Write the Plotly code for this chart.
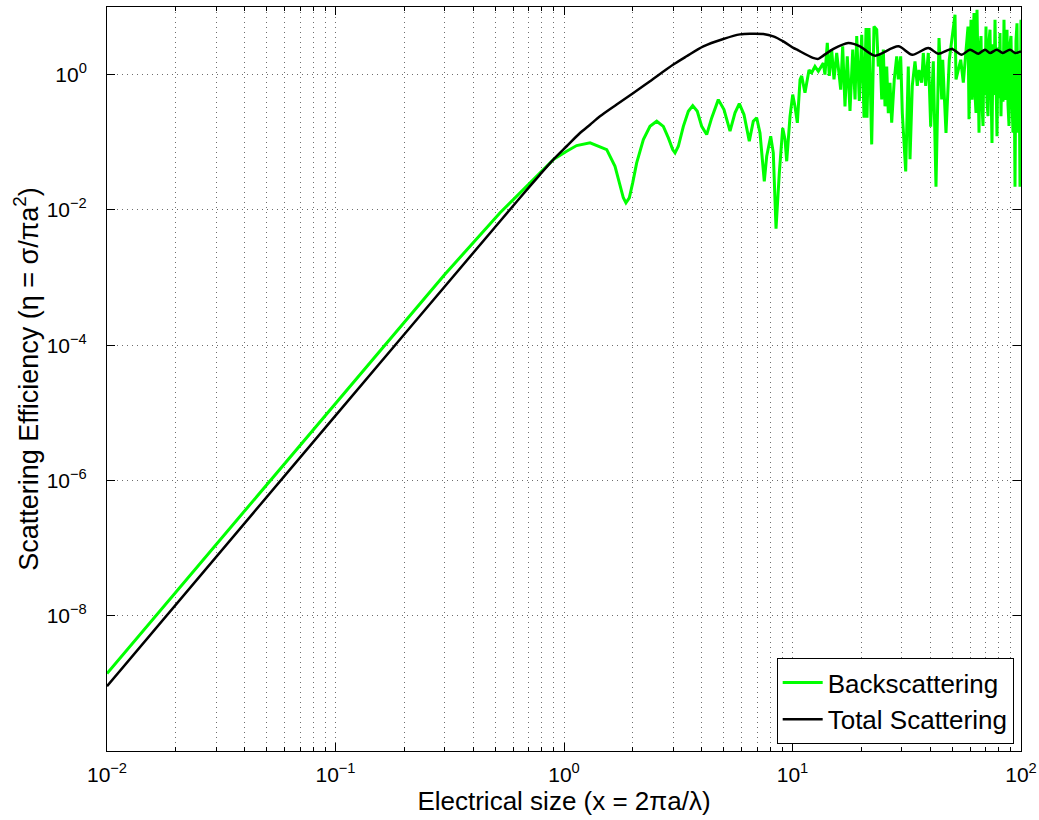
import plotly.graph_objects as go

# Electrical size x = 2*pi*a/lambda
total_x = [0.01, 0.1, 0.525, 0.642, 0.785, 0.898, 1.027, 1.175, 1.30, 1.437, 1.70, 2.012,
           2.379, 3.010, 3.441, 4.072, 4.982, 5.891, 6.516, 7.451, 8.241, 9.115, 10.08,
           10.60, 10.79, 12.29, 12.97, 13.64, 15.11, 17.53, 19.73, 20.7, 23.0, 29.04,
           33.42, 39.3, 43.4, 49.8, 55.0, 59.8, 65.1, 69.6, 73.2, 78.3, 83.2, 89.5,
           94.2, 100.0]
# Total scattering efficiency
total_eta = [9.1e-10, 9.1e-6, 6.81e-3, 1.51e-2, 3.33e-2, 5.55e-2, 8.73e-2, 0.137, 0.182,
             0.242, 0.361, 0.536, 0.80, 1.41, 1.87, 2.62, 3.37, 3.94, 4.03, 3.99, 3.68,
             3.10, 2.48, 2.29, 2.21, 1.77, 1.71, 1.91, 2.40, 2.94, 2.62, 2.34, 1.91, 2.62,
             1.97, 2.48, 2.04, 2.40, 1.97, 2.34, 2.04, 2.34, 2.09, 2.34, 2.09, 2.34,
             2.09, 2.20]

# Backscattering efficiency
back_x = [0.01, 0.1, 0.3, 0.525, 0.687, 0.898, 1.027, 1.136, 1.30, 1.538, 1.672, 1.758,
          1.818, 1.867, 1.931, 1.998, 2.080, 2.225, 2.379, 2.545, 2.721, 2.862, 2.990,
          3.062, 3.165, 3.329, 3.501, 3.659, 3.831, 4.005, 4.212, 4.429, 4.735, 5.014,
          5.328, 5.603, 5.851, 6.133, 6.470, 6.736, 6.970, 7.207, 7.526, 7.710, 8.027,
          8.241, 8.470, 8.755, 9.060, 9.273, 9.433, 9.752, 10.02, 10.25, 10.50, 10.79,
          10.97, 11.34, 11.81, 12.13, 12.54, 12.97, 13.64, 13.87, 14.20, 14.49, 14.84,
          15.19, 15.61, 16.02, 16.25, 16.58, 16.97, 17.37, 17.85, 18.35, 18.78, 19.10,
          19.61, 20.09, 20.56, 20.98, 21.19, 21.62, 22.21, 22.73, 23.36, 23.74, 24.15,
          24.57, 24.97, 25.40, 25.84, 26.26, 26.71, 27.17, 27.89, 28.58, 29.04, 29.75,
          30.24, 31.29, 32.12, 32.68, 33.44, 34.36, 35.17, 35.78, 36.76, 37.36, 38.27,
          39.29, 40.25, 41.32, 42.46, 43.77, 44.98, 45.43, 46.96, 48.55, 50.25, 51.43,
          51.95, 53.17, 54.47, 55.92, 57.46,
          58.63, 59.22, 59.82, 60.43, 61.04, 61.66, 62.28, 62.91, 63.55, 64.19, 64.84,
          65.50, 66.16, 66.83, 67.51, 68.19, 68.88, 69.58, 70.28, 70.99, 71.71, 72.44,
          73.17, 73.91, 74.66, 75.42, 76.18, 76.95, 77.73, 78.52, 79.31, 80.12, 80.93,
          81.75, 82.57, 83.41, 84.25, 85.11, 85.97, 86.84, 87.72, 88.61, 89.50, 90.41,
          91.33, 92.25, 93.19, 94.13, 95.08, 96.05, 97.02, 98.00, 99.00, 100.0]
back_eta = [1.4e-9, 1.38e-5, 1.1e-3, 9.1e-3, 2.24e-2, 5.55e-2, 7.36e-2, 8.94e-2, 0.098,
            0.078, 0.0442, 0.0237, 0.0151, 0.0127, 0.0151, 0.0251, 0.0496, 0.110, 0.172,
            0.205, 0.172, 0.116, 0.078, 0.0697, 0.0873, 0.172, 0.287, 0.348, 0.287, 0.172,
            0.130, 0.229, 0.427, 0.304, 0.146, 0.272, 0.373, 0.257, 0.104, 0.205, 0.229,
            0.137, 0.0265, 0.0621, 0.123, 0.0697, 0.00526, 0.0353, 0.163, 0.110, 0.0524,
            0.242, 0.507, 0.340, 0.194, 0.844,
            0.955, 0.54, 1.17, 1.07, 1.32, 1.12, 1.48, 1.0, 2.95, 0.955, 2.34,
            0.85, 2.09, 0.955, 0.60, 2.63, 0.34, 1.86, 0.29, 2.34, 0.43, 3.72,
            0.41, 3.89, 0.23, 4.90, 0.23, 4.90, 0.093, 5.13, 4.62, 1.32, 1.97,
            0.43, 2.34, 0.34, 1.32, 0.27, 0.76, 0.195, 0.85, 1.86, 0.85, 1.86,
            0.27, 0.037, 1.32, 0.056, 0.68, 1.57, 0.68, 1.17, 0.76, 2.09, 0.68,
            2.09, 0.17, 1.57, 0.022, 3.47, 0.43, 1.66, 0.138, 1.66, 4.12, 7.67,
            0.85, 1.17, 1.66, 0.76, 2.09,
            5.13, 0.219, 2.82, 6.46, 0.427, 3.16, 8.13, 0.50, 0.272, 9.12, 0.631,
            0.138, 2.51, 3.72, 0.355, 0.174, 2.24, 0.50, 5.13, 0.398, 0.243, 3.16,
            4.62, 0.447, 0.098, 2.82, 0.50, 6.46, 0.316, 0.123, 2.51, 0.447, 4.12,
            0.243, 2.0, 0.398, 6.46, 0.50, 0.427, 4.62, 0.355, 0.174, 2.82, 3.72,
            0.398, 0.138, 2.24, 0.022, 3.16, 5.75, 0.138, 2.0, 0.022, 6.46]

x_ticks = [0.01, 0.1, 1, 10, 100]
x_tick_text = ["10<sup>−2</sup>", "10<sup>−1</sup>", "10<sup>0</sup>", "10<sup>1</sup>", "10<sup>2</sup>"]
x_minor = [m * d for d in (0.01, 0.1, 1, 10) for m in range(2, 10)]
y_ticks = [1e-8, 1e-6, 1e-4, 1e-2, 1]
y_tick_text = ["10<sup>−8</sup>", "10<sup>−6</sup>", "10<sup>−4</sup>", "10<sup>−2</sup>", "10<sup>0</sup>"]

FONT = "Liberation Sans, Arial, Helvetica, sans-serif"
GRID = "#6e6e6e"
GRID_DASH = "1px,4px"

fig = go.Figure()
fig.add_trace(go.Scatter(x=back_x, y=back_eta, mode="lines", name="Backscattering",
                         line=dict(color="#00ff00", width=3)))
fig.add_trace(go.Scatter(x=total_x, y=total_eta, mode="lines", name="Total Scattering",
                         line=dict(color="#000000", width=2.5, shape="spline", smoothing=0.8)))

axis_common = dict(
    showline=True, linecolor="black", linewidth=1, mirror="allticks",
    ticks="inside", tickcolor="black", ticklen=8,
    showgrid=True, gridcolor=GRID, griddash=GRID_DASH, gridwidth=1,
    zeroline=False, tickfont=dict(family=FONT, size=21, color="black"),
)

fig.update_xaxes(
    type="log", range=[-2, 2], tickmode="array", tickvals=x_ticks, ticktext=x_tick_text,
    ticklabelstandoff=5,
    minor=dict(tickmode="array", tickvals=x_minor, ticks="inside", ticklen=4,
               tickcolor="black", showgrid=True, gridcolor=GRID, griddash=GRID_DASH,
               gridwidth=1),
    title=dict(text="Electrical size (x = 2πa/λ)", font=dict(family=FONT, size=26, color="black"),
               standoff=2),
    **axis_common,
)
fig.update_yaxes(
    type="log", range=[-10, 1], tickmode="array", tickvals=y_ticks, ticktext=y_tick_text,
    ticklabelstandoff=15,
    title=dict(text="Scattering Efficiency (η = σ/πa<sup>2</sup>)",
               font=dict(family=FONT, size=27, color="black"), standoff=0),
    **axis_common,
)

fig.update_layout(
    width=1039, height=820,
    margin=dict(l=107, r=18, t=7, b=69, autoexpand=False),
    paper_bgcolor="white", plot_bgcolor="white",
    font=dict(family=FONT, color="black"),
    showlegend=True,
    legend=dict(x=0.992, y=0.0094, xanchor="right", yanchor="bottom",
                bgcolor="white", bordercolor="black", borderwidth=1,
                font=dict(family=FONT, size=26, color="black"),
                itemwidth=40, tracegroupgap=0),
)

fig.write_html("out.html")
